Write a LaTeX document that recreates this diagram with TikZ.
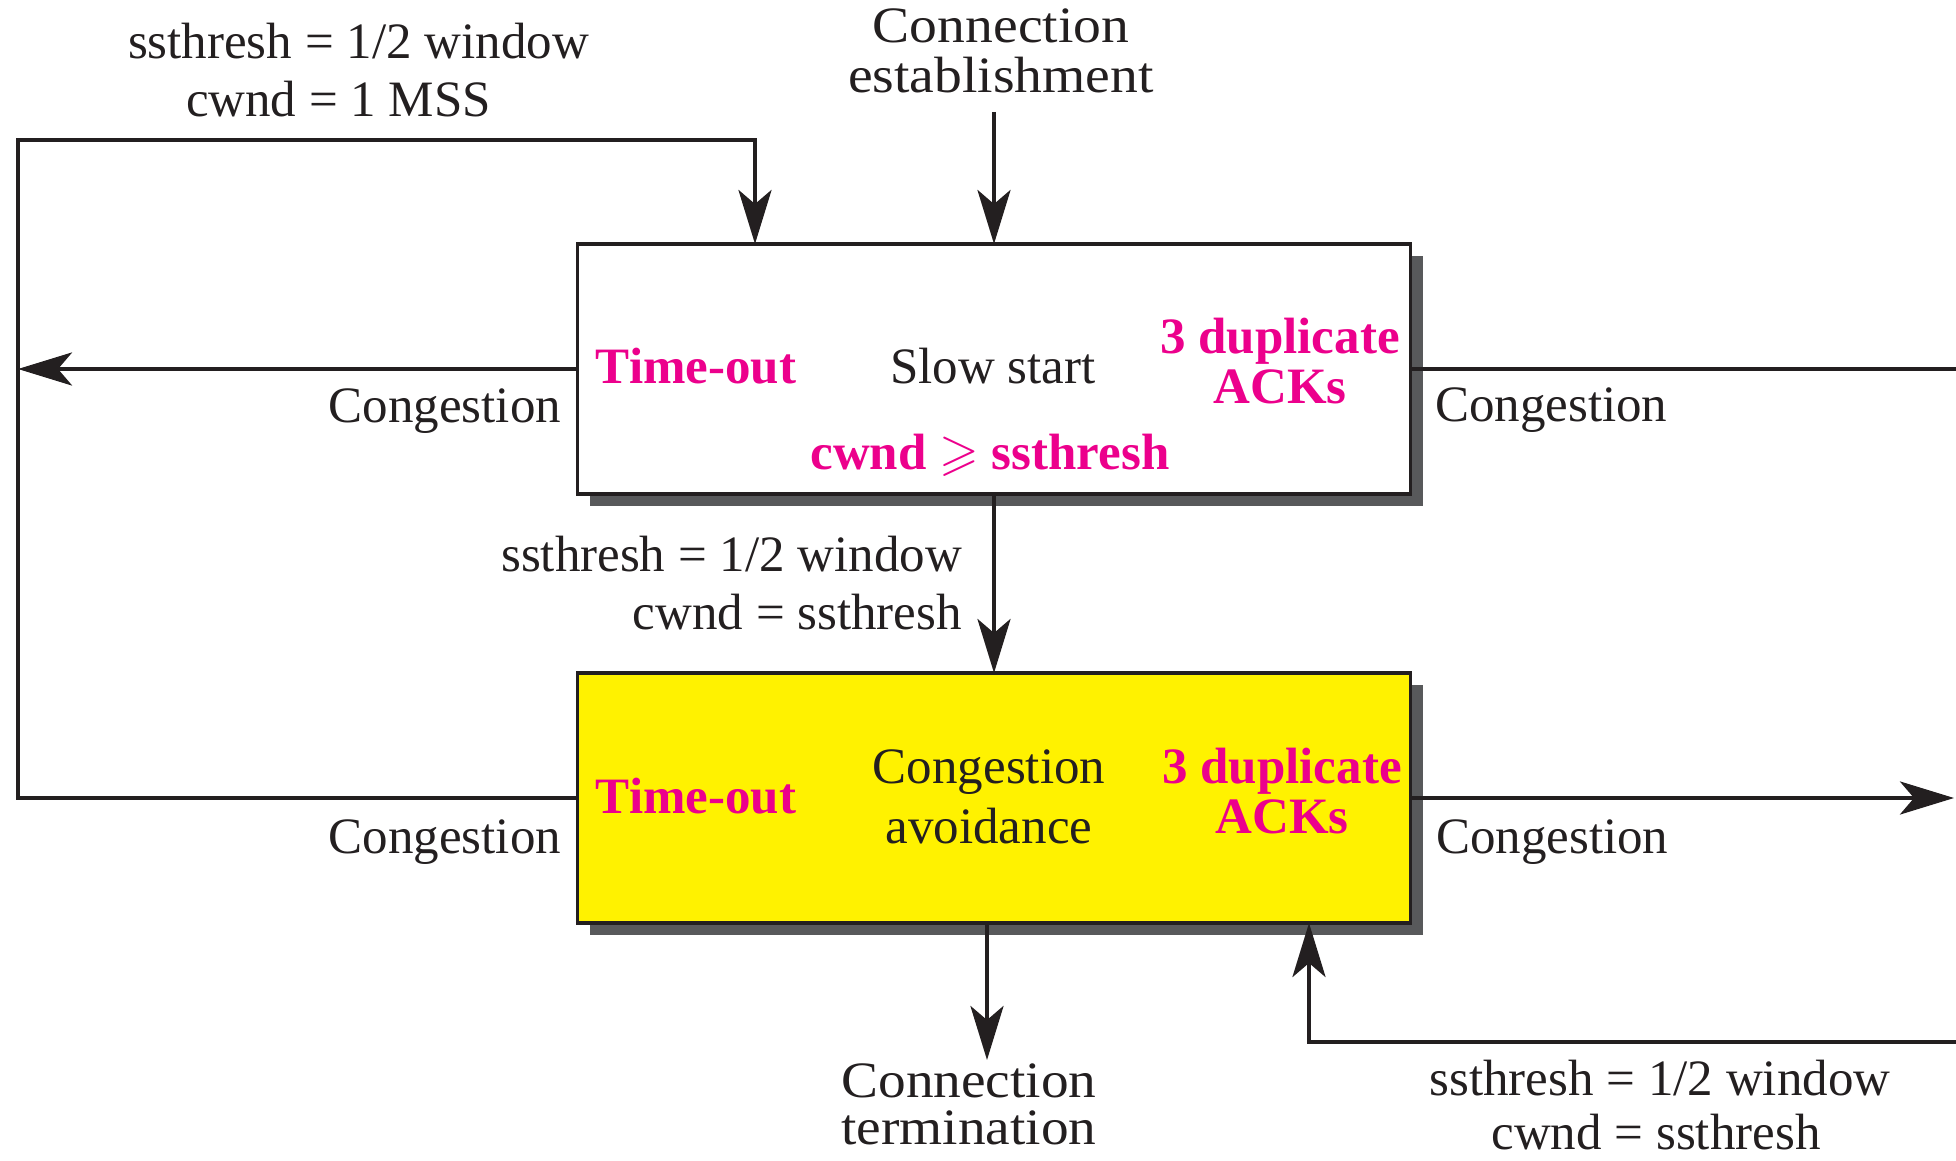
\documentclass[tikz,border=0pt]{standalone}
\usepackage{fontspec}
\setmainfont{Liberation Serif}
\usepackage{amssymb}
\usepackage{graphicx}
\usetikzlibrary{arrows.meta,shadows}

\definecolor{hot}{RGB}{236,0,140}
\definecolor{sun}{RGB}{255,242,0}
\definecolor{shade}{RGB}{88,89,91}
\definecolor{ink}{RGB}{35,31,32}

% stacked lines; the first line carries the baseline
\newcommand\linesc[1]{\begin{tabular}[t]{@{}c@{}}#1\end{tabular}}
\newcommand\linesr[1]{\begin{tabular}[t]{@{}r@{}}#1\end{tabular}}
\newcommand\linesl[1]{\begin{tabular}[t]{@{}l@{}}#1\end{tabular}}

\begin{document}
\begin{tikzpicture}[x=1pt,y=-1pt,
  every node/.style={inner sep=0pt, outer sep=0pt, text=ink},
  lbl/.style={font=\fontsize{51}{58}\selectfont},
  hotlbl/.style={font=\fontsize{51}{50}\selectfont\bfseries, text=hot},
  state/.style={draw=ink, line width=3.5pt, minimum width=833pt, minimum height=250pt,
    general shadow={fill=shade, shadow xshift=12pt, shadow yshift=-12pt}},
  flow/.style={draw=ink, line width=4.5pt, line join=miter},
  tip/.style={-{Stealth[length=54pt,width=33pt,inset=14pt]}},
]
\useasboundingbox (0,0) rectangle (1956,1161);

% the two states
\node[state, fill=white] (ss) at (994,369) {};
\node[state, fill=sun]   (ca) at (994,798) {};

% texts inside "Slow start"
\node[hotlbl, anchor=base] (ssto)  at (696,383) {Time-out};
\node[lbl,    anchor=base] (ssname) at (993,383) {Slow start};
\node[hotlbl, anchor=base] (ssdup) at (1280,353) {\linesc{3 duplicate\\ACKs}};
\node[hotlbl, anchor=base] (ssexit) at (990,469) {cwnd $\geqslant$ ssthresh};

% texts inside "Congestion avoidance"
\node[hotlbl, anchor=base] (cato)  at (696,813) {Time-out};
\node[lbl, font=\fontsize{51}{60}\selectfont, anchor=base] (caname) at (989,783) {\linesc{Congestion\\avoidance}};
\node[hotlbl, anchor=base] (cadup) at (1282,783) {\linesc{3 duplicate\\ACKs}};

% outside labels
\node[lbl, font=\fontsize{51}{48}\selectfont, anchor=base] (est) at (1001,43)
  {\scalebox{1.09}[1]{\linesc{Connection\\establishment}}};
\node[lbl, font=\fontsize{51}{46}\selectfont, anchor=base] (term) at (969,1097)
  {\scalebox{1.085}[1]{\linesc{Connection\\termination}}};
\node[lbl, anchor=base west] (resetl) at (128,59) {\linesl{ssthresh = 1/2 window\\\hspace*{58pt}cwnd = 1 MSS}};
\node[lbl, anchor=base east] (thr) at (962,571) {\linesr{ssthresh = 1/2 window\\cwnd = ssthresh}};
\node[lbl, anchor=base] (fastl) at (1660,1095) {ssthresh = 1/2 window};
\node[lbl, anchor=base] (fastm) at (1656,1149) {cwnd = ssthresh};

\node[lbl, anchor=base east] (cgl1) at (561,422) {Congestion};
\node[lbl, anchor=base west] (cgr1) at (1435,421) {Congestion};
\node[lbl, anchor=base east] (cgl2) at (561,853) {Congestion};
\node[lbl, anchor=base west] (cgr2) at (1436,853) {Congestion};

% points the connectors run through
\coordinate (estfoot)  at (994,112);
\coordinate (leftrail) at (18,140);
\coordinate (retx)     at (755,140);
\coordinate (rightedge) at (1956,0);
\coordinate (outtip)   at (1954,0);
\coordinate (fastin)   at (1956,1042);
\coordinate (upx)      at (1309,1042);
\coordinate (termtip)  at (987,1060);

% connectors
\draw[flow,tip] (estfoot) -- (ss.north);
\draw[flow,tip] (ca.west) -| (leftrail) -- (retx) -- (retx |- ss.north);
\draw[flow,tip] (ss.west) -- (ss.west -| leftrail);
\draw[flow] (ss.east) -- (ss.east -| rightedge);
\draw[flow,tip] (ss.south) -- (ca.north);
\draw[flow,tip] (ca.east) -- (ca.east -| outtip);
\draw[flow,tip] (fastin) -- (upx) -- (upx |- ca.south);
\draw[flow,tip] (ca.south -| termtip) -- (termtip);
\end{tikzpicture}
\end{document}
